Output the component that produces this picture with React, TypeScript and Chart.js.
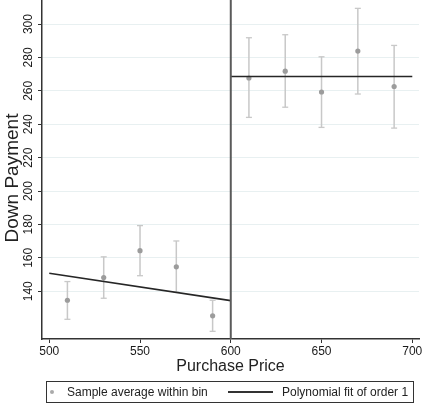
import React, { useEffect, useRef } from "react";
import { Chart, registerables } from "chart.js";

Chart.register(...registerables);

// ---- data ----
const bins = [510, 530, 550, 570, 590, 610, 630, 650, 670, 690];
const binMeans = [134.6, 148.2, 164.3, 154.6, 125.3, 267.7, 271.8, 259.3, 283.8, 262.6];
const ciLow = [123.2, 135.8, 149.3, 139.4, 116.0, 244.1, 250.2, 238.1, 258.1, 237.7];
const ciHigh = [145.8, 160.6, 179.3, 170.1, 134.6, 291.8, 293.6, 280.4, 309.4, 287.2];
const fitLeftX = [500, 600];
const fitLeftY = [150.8, 134.4];
const fitRightX = [600, 700];
const fitRightY = [268.6, 268.6];
const cutoff = 600;
const xTicks = [500, 550, 600, 650, 700];
const yTicks = [140, 160, 180, 200, 220, 240, 260, 280, 300];
const xRange = [496, 703.7];
const yRange = [111.4, 314.4];
const xTitle = "Purchase Price";
const yTitle = "Down Payment";
const legendLabels = ["Sample average within bin", "Polynomial fit of order 1"];

const FONT = '"Liberation Sans", Arial, Helvetica, sans-serif';

export default function App() {
  const ref = useRef<HTMLCanvasElement | null>(null);

  useEffect(() => {
    if (!ref.current) return;
    const errPts: any[] = [];
    bins.forEach((b, i) => {
      errPts.push({ x: b, y: ciLow[i] });
      errPts.push({ x: b, y: ciHigh[i] });
      errPts.push({ x: b, y: null });
    });
    const yTitlePlugin = {
      id: "yTitle",
      afterDraw(chart: any) {
        const { ctx, chartArea } = chart;
        ctx.save();
        ctx.translate(13, (chartArea.top + chartArea.bottom) / 2 + 8.5);
        ctx.rotate(-Math.PI / 2);
        ctx.font = `19px ${FONT}`;
        ctx.fillStyle = "#222";
        ctx.textAlign = "center";
        ctx.textBaseline = "middle";
        ctx.fillText(yTitle, 0, 0);
        ctx.restore();
      },
    };
    const tickFont = { size: 12, family: FONT };
    const chart = new Chart(ref.current, {
      type: "line",
      data: {
        datasets: [
          {
            label: "cutoff",
            data: [
              { x: cutoff, y: yRange[0] },
              { x: cutoff, y: yRange[1] },
            ],
            borderColor: "#5a5a5a",
            borderWidth: 2,
            pointRadius: 0,
            order: 0,
          },
          {
            label: "fitLeft",
            data: fitLeftX.map((x, i) => ({ x, y: fitLeftY[i] })),
            borderColor: "#262626",
            borderWidth: 1.6,
            pointRadius: 0,
            order: 1,
          },
          {
            label: "fitRight",
            data: fitRightX.map((x, i) => ({ x, y: fitRightY[i] })),
            borderColor: "#262626",
            borderWidth: 1.6,
            pointRadius: 0,
            order: 1,
          },
          {
            label: "means",
            data: bins.map((x, i) => ({ x, y: binMeans[i] })),
            showLine: false,
            pointRadius: 2.6,
            pointBackgroundColor: "#9c9c9c",
            pointBorderWidth: 0,
            order: 2,
          },
          {
            label: "ci",
            data: errPts,
            spanGaps: false,
            borderColor: "#c8c8c8",
            borderWidth: 1.5,
            pointStyle: "line",
            pointRadius: 3,
            pointBorderColor: "#c8c8c8",
            pointBorderWidth: 1.3,
            order: 3,
          },
        ] as any,
      },
      options: {
        animation: false,
        responsive: false,
        devicePixelRatio: 1,
        layout: { padding: { left: 0, right: 3, top: 0, bottom: 0 }, autoPadding: false } as any,
        plugins: { legend: { display: false }, tooltip: { enabled: false } },
        scales: {
          x: {
            type: "linear",
            min: xRange[0],
            max: xRange[1],
            afterBuildTicks: (s: any) => {
              s.ticks = xTicks.map((v) => ({ value: v }));
            },
            afterFit: (s: any) => {
              s.height = 65;
              s.paddingLeft = 0;
              s.paddingRight = 0;
            },
            grid: { drawOnChartArea: false, tickLength: 4, tickColor: "#333", tickWidth: 1 },
            border: { color: "#333", width: 1.5 },
            ticks: {
              font: tickFont,
              color: "#1a1a1a",
              padding: 1,
              maxRotation: 0,
              autoSkip: false,
            },
            title: {
              display: true,
              text: xTitle,
              font: { size: 16, family: FONT },
              color: "#222",
              padding: { top: 0, bottom: 28 },
            },
          },
          y: {
            type: "linear",
            min: yRange[0],
            max: yRange[1],
            afterBuildTicks: (s: any) => {
              s.ticks = yTicks.map((v) => ({ value: v }));
            },
            afterFit: (s: any) => {
              s.width = 42;
              s.paddingTop = 0;
              s.paddingBottom = 0;
            },
            grid: { color: "#e8f0f1", lineWidth: 1, tickLength: 4, tickColor: "#333", tickWidth: 1 },
            border: { color: "#333", width: 1.5 },
            ticks: {
              minRotation: 90,
              maxRotation: 90,
              crossAlign: "center",
              padding: -1,
              font: tickFont,
              color: "#1a1a1a",
              autoSkip: false,
            },
          },
        } as any,
      },
      plugins: [yTitlePlugin],
    });
    return () => chart.destroy();
  }, []);

  return (
    <div style={{ position: "absolute", left: 0, top: 0, width: 422, height: 404, background: "#fff" }}>
      <canvas ref={ref} width={422} height={404} style={{ display: "block" }} />
      <div
        style={{
          position: "absolute",
          left: 46,
          top: 381,
          width: 368,
          height: 22,
          border: "1px solid #333",
          boxSizing: "border-box",
          fontFamily: FONT,
          fontSize: 12,
          color: "#222",
          lineHeight: "20px",
        }}
      >
        <span
          style={{
            position: "absolute",
            left: 3,
            top: 8,
            width: 4,
            height: 4,
            borderRadius: 2,
            background: "#aaaaaa",
          }}
        />
        <span style={{ position: "absolute", left: 20, top: 0, whiteSpace: "nowrap" }}>{legendLabels[0]}</span>
        <span
          style={{
            position: "absolute",
            left: 181,
            top: 9,
            width: 45,
            height: 1.5,
            background: "#333",
          }}
        />
        <span style={{ position: "absolute", left: 235, top: 0, whiteSpace: "nowrap" }}>{legendLabels[1]}</span>
      </div>
    </div>
  );
}
